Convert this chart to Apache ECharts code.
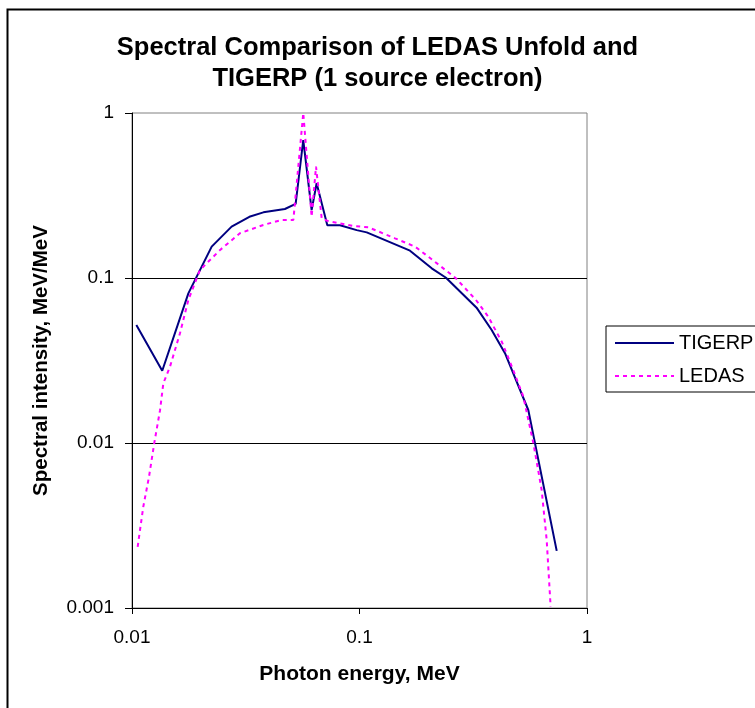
<!DOCTYPE html>
<html>
<head>
<meta charset="utf-8">
<script src="https://cdn.jsdelivr.net/npm/echarts@6/dist/echarts.min.js"></script>
<style>
html,body{margin:0;padding:0;background:#fff;}
#chart{width:755px;height:708px;}
</style>
</head>
<body>
<div id="chart"></div>
<script>
// Data
const tigerpEnergy = [0.01045, 0.01358, 0.01769, 0.0224, 0.0274, 0.0328, 0.0378, 0.0470, 0.0524, 0.0566, 0.0616, 0.0648, 0.0722, 0.0821, 0.0972, 0.1076, 0.1667, 0.2077, 0.240, 0.327, 0.381, 0.436, 0.552, 0.736];
const tigerpIntensity = [0.0519, 0.0274, 0.0807, 0.155, 0.2047, 0.235, 0.250, 0.262, 0.281, 0.686, 0.258, 0.375, 0.209, 0.209, 0.195, 0.189, 0.1464, 0.1145, 0.1004, 0.0661, 0.0484, 0.035, 0.01585, 0.00222];

const ledasEnergy = [0.01059, 0.01121, 0.01188, 0.01253, 0.01328, 0.01373, 0.01469, 0.01625, 0.01769, 0.0199, 0.0244, 0.0298, 0.0378, 0.0455, 0.0512, 0.0566, 0.0616, 0.0644, 0.0682, 0.0722, 0.0938, 0.1093, 0.1432, 0.1754, 0.2098, 0.2655, 0.325, 0.368, 0.422, 0.474, 0.525, 0.581, 0.632, 0.665, 0.692];
const ledasIntensity = [0.00235, 0.00411, 0.00625, 0.0100, 0.0158, 0.0230, 0.0290, 0.0462, 0.0736, 0.1118, 0.148, 0.1866, 0.2096, 0.2248, 0.2248, 1.0, 0.235, 0.473, 0.230, 0.222, 0.2066, 0.203, 0.174, 0.155, 0.1285, 0.0995, 0.0736, 0.0583, 0.0411, 0.0277, 0.0191, 0.0100, 0.00519, 0.00258, 0.00102];

const seriesNames = ['TIGERP', 'LEDAS'];
const titleText = 'Spectral Comparison of LEDAS Unfold and\nTIGERP (1 source electron)';
const xAxisName = 'Photon energy, MeV';
const yAxisName = 'Spectral intensity, MeV/MeV';

const FONT = '"Liberation Sans", Arial, sans-serif';

function pairs(xs, ys) { return xs.map((x, i) => [x, ys[i]]); }

const chart = echarts.init(document.getElementById('chart'), null, {renderer: 'canvas'});
chart.setOption({
  backgroundColor: '#fff',
  animation: false,
  graphic: [{
    type: 'rect', left: 5, top: 7, z: 0,
    shape: {width: 800, height: 800},
    style: {fill: 'none', stroke: '#000', lineWidth: 2}
  }],
  title: {
    text: titleText,
    left: 'center',
    top: 27,
    textStyle: {fontFamily: FONT, fontSize: 25.5, fontWeight: 'bold', color: '#000', lineHeight: 31}
  },
  legend: {
    orient: 'vertical',
    left: 606, top: 326,
    padding: [6, 20, 5, 8],
    itemGap: 11,
    itemWidth: 59, itemHeight: 14,
    borderColor: '#000', borderWidth: 1,
    itemStyle: {color: 'rgba(0,0,0,0)', opacity: 0, borderWidth: 0},
    textStyle: {fontFamily: FONT, fontSize: 20, color: '#000', lineHeight: 22},
    data: seriesNames
  },
  grid: {
    left: 132, right: 168, top: 113, bottom: 100,
    show: true, borderColor: '#808080', borderWidth: 1,
    containLabel: false
  },
  xAxis: {
    type: 'log', logBase: 10, min: 0.01, max: 1,
    name: xAxisName, nameLocation: 'middle', nameGap: 56,
    nameTextStyle: {fontFamily: FONT, fontSize: 21, fontWeight: 'bold', color: '#000'},
    axisLine: {show: true, lineStyle: {color: '#000', width: 1}},
    axisTick: {show: true, length: 6, lineStyle: {color: '#000'}},
    minorTick: {show: false},
    axisLabel: {fontFamily: FONT, fontSize: 19, color: '#000', margin: 20},
    splitLine: {show: false}
  },
  yAxis: {
    type: 'log', logBase: 10, min: 0.001, max: 1,
    name: yAxisName, nameLocation: 'middle', nameGap: 80,
    nameTextStyle: {fontFamily: FONT, fontSize: 20.5, fontWeight: 'bold', color: '#000'},
    axisLine: {show: true, lineStyle: {color: '#000', width: 1}},
    axisTick: {show: true, length: 7, lineStyle: {color: '#000'}},
    minorTick: {show: false},
    axisLabel: {fontFamily: FONT, fontSize: 19, color: '#000', margin: 18},
    splitLine: {show: true, showMinLine: false, showMaxLine: false, lineStyle: {color: '#000', width: 1}}
  },
  series: [{
    name: seriesNames[0], type: 'line', symbol: 'none',
    data: pairs(tigerpEnergy, tigerpIntensity),
    lineStyle: {color: '#000080', width: 2},
    itemStyle: {color: '#000080'}
  }, {
    name: seriesNames[1], type: 'line', symbol: 'none',
    data: pairs(ledasEnergy, ledasIntensity),
    lineStyle: {color: '#FF00FF', width: 2, type: [4, 4]},
    itemStyle: {color: '#FF00FF'}
  }]
});
</script>
</body>
</html>
